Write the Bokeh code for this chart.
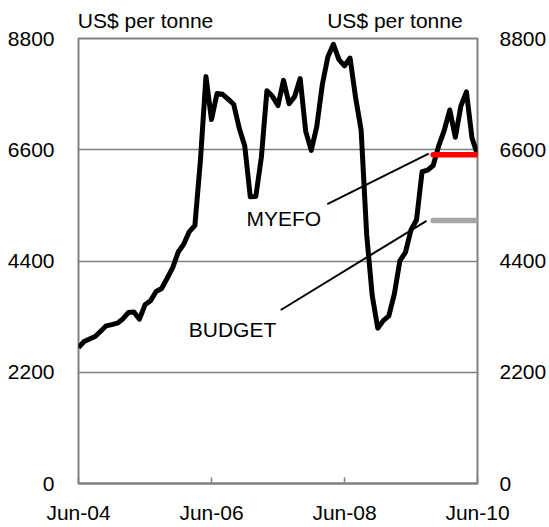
from bokeh.plotting import figure
from bokeh.models import Range1d, FixedTicker, LinearAxis
from bokeh.core.properties import value
from bokeh.embed import file_html
from bokeh.resources import INLINE

# Monthly copper price, US$ per tonne, Jun-04 .. Jun-10
month_names = ["Jan", "Feb", "Mar", "Apr", "May", "Jun", "Jul", "Aug", "Sep", "Oct", "Nov", "Dec"]
months = []
for yy in range(4, 11):
    for mi, mn in enumerate(month_names):
        if (yy == 4 and mi < 5) or (yy == 10 and mi > 5):
            continue
        months.append(f"{mn}-{yy:02d}")

copper = [
    2686, 2808, 2859, 2908, 3011, 3118, 3142,
    3170, 3254, 3380, 3392, 3249, 3534, 3614, 3797, 3857, 4059, 4270, 4577,
    4734, 4982, 5103, 6388, 8046, 7197, 7712, 7697, 7602, 7500, 7029, 6675,
    5669, 5676, 6452, 7766, 7656, 7475, 7973, 7510, 7651, 8008, 6964, 6588,
    7061, 7888, 8439, 8685, 8383, 8260, 8414, 7634, 6991, 4926, 3717, 3072,
    3221, 3315, 3750, 4407, 4569, 5014, 5216, 6165, 6196, 6288, 6676, 6982,
    7386, 6848, 7463, 7745, 6838, 6499,
]

forecast_months = ["Oct-09", "Jun-10"]
myefo = [6500, 6500]
budget = [5200, 5200]

x_tick_labels = ["Jun-04", "Jun-06", "Jun-08", "Jun-10"]
y_ticks = [0, 2200, 4400, 6600, 8800]
unit_label = "US$ per tonne"

FONT = "Liberation Sans"
GREY = "#808080"
FS = "21px"

xs = list(range(len(months)))
fx = [months.index(m) for m in forecast_months]
x_tick_pos = [months.index(m) for m in x_tick_labels]
x_last = len(months) - 1

p = figure(width=549, height=527, output_backend="svg", toolbar_location=None,
           x_range=Range1d(0, x_last), y_range=Range1d(0, 8800),
           min_border_left=78, min_border_right=72, min_border_top=38, min_border_bottom=44)
p.background_fill_color = "white"
p.border_fill_color = "white"
p.outline_line_color = GREY
p.outline_line_width = 2

p.xgrid.visible = False
p.ygrid.ticker = FixedTicker(ticks=y_ticks)
p.ygrid.grid_line_color = GREY
p.ygrid.grid_line_width = 1.6

# bottom axis
xa = p.xaxis[0]
xa.ticker = FixedTicker(ticks=x_tick_pos)
xa.major_label_overrides = {pos: lab for pos, lab in zip(x_tick_pos, x_tick_labels)}
xa.axis_line_color = GREY
xa.axis_line_width = 2
xa.major_tick_in = 6
xa.major_tick_out = 0
xa.major_tick_line_color = GREY
xa.major_tick_line_width = 1.5
xa.minor_tick_line_color = None
xa.major_label_standoff = 17
xa.major_label_text_font = FONT
xa.major_label_text_font_size = FS
xa.major_label_text_color = "black"

# unit labels above the frame, carried by a top axis
unit_pos = [12.1, 57.1]
ta = LinearAxis(ticker=FixedTicker(ticks=unit_pos))
ta.major_label_overrides = {pos: unit_label for pos in unit_pos}
ta.axis_line_color = None
ta.major_tick_line_color = None
ta.minor_tick_line_color = None
ta.major_label_standoff = 1
ta.major_label_text_font = FONT
ta.major_label_text_font_size = FS
ta.major_label_text_color = "black"
p.add_layout(ta, "above")

# left axis
ya = p.yaxis[0]
ya.ticker = FixedTicker(ticks=y_ticks)
ya.axis_line_color = None
ya.major_tick_line_color = None
ya.minor_tick_line_color = None
ya.major_label_standoff = 18
ya.major_label_text_font = FONT
ya.major_label_text_font_size = FS
ya.major_label_text_color = "black"

# right axis
ra = LinearAxis(ticker=FixedTicker(ticks=y_ticks))
ra.axis_line_color = None
ra.major_tick_line_color = None
ra.minor_tick_line_color = None
ra.major_label_standoff = 16
ra.major_label_text_font = FONT
ra.major_label_text_font_size = FS
ra.major_label_text_color = "black"
p.add_layout(ra, "right")

# series
p.line(xs, copper, line_color="black", line_width=5, line_join="round")
p.line(fx, budget, line_color="#A6A6A6", line_width=5.5, line_cap="round")
p.line(fx, myefo, line_color="#FF0000", line_width=5.5, line_cap="round")

# leader lines
p.line([44.9, 63.2], [5525, 6525], line_color="black", line_width=2)
p.line([36.5, 62.8], [3431, 5195], line_color="black", line_width=2)

p.text(x=[30.3], y=[5240], text=["MYEFO"], text_font=value(FONT), text_font_size=FS,
       text_align="left", text_baseline="alphabetic", text_color="black")
p.text(x=[19.9], y=[3036], text=["BUDGET"], text_font=value(FONT), text_font_size=FS,
       text_align="left", text_baseline="alphabetic", text_color="black")

open("out.html", "w").write(file_html(p, INLINE))
